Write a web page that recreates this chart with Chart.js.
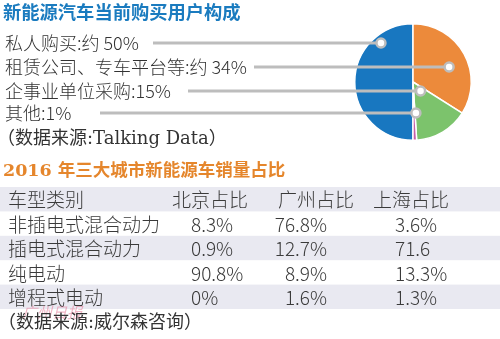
<!DOCTYPE html>
<html>
<head>
<meta charset="utf-8">
<script src="https://cdn.jsdelivr.net/npm/chart.js@4/dist/chart.umd.min.js"></script>
<style>
  html, body { margin: 0; padding: 0; background: #fff; }
  #wrap { width: 500px; height: 339px; position: relative; }
</style>
</head>
<body>
<div id="wrap"><canvas id="infographic"></canvas></div>
<script>
// pie: buyer composition
const buyerLabels = ['私人购买:约 50%', '租赁公司、专车平台等:约 34%', '企事业单位采购:15%', '其他:1%'];
const buyerShares = [50, 34, 15, 1];
const buyerColors = ['#1877c0', '#ec8a3b', '#7cc36c', '#c45fa8'];

// table: 2016 sales share by vehicle type
const tableHeaders = ['车型类别', '北京占比', '广州占比', '上海占比'];
const vehicleTypes = ['非插电式混合动力', '插电式混合动力', '纯电动', '增程式电动'];
const beijingShares = ['8.3%', '0.9%', '90.8%', '0%'];
const guangzhouShares = ['76.8%', '12.7%', '8.9%', '1.6%'];
const shanghaiShares = ['3.6%', '71.6', '13.3%', '1.3%'];

const SANS = '"Noto Sans CJK SC", "Noto Sans", sans-serif';
const SERIF = '"DejaVu Serif", "Liberation Serif", "Noto Sans CJK SC", serif';

const infoPlugin = {
    id: 'info',
    beforeDraw(chart) {
        const ctx = chart.ctx;
        ctx.save();
        ctx.fillStyle = '#fff';
        ctx.fillRect(0, 0, chart.width, chart.height);
        ctx.restore();
    },
    afterDraw(chart, args, opts) {
        const ctx = chart.ctx;
        const arcs = chart.getDatasetMeta(0).data;
        ctx.save();
        ctx.textBaseline = 'middle';

        // title 1
        ctx.fillStyle = '#1a7bbf';
        ctx.font = 'bold 18.3px ' + SERIF;
        ctx.fillText('新能源汽车当前购买用户构成', 3, 14);

        // legend labels + leader lines
        ctx.font = '300 18px ' + SANS;
        buyerLabels.forEach((label, i) => {
            const y = opts.rowY[i];
            ctx.fillStyle = '#333';
            ctx.fillText(label, 5, y);
            const arc = arcs[i];
            const r = arc.outerRadius;
            const dx = arc.x + opts.dotOffset[i] * r;
            ctx.strokeStyle = '#bdbdbd';
            ctx.lineWidth = 3;
            ctx.beginPath();
            ctx.moveTo(opts.lineStart[i], y);
            ctx.lineTo(dx, y);
            ctx.stroke();
            ctx.beginPath();
            ctx.arc(dx, y, 4.5, 0, Math.PI * 2);
            ctx.fillStyle = '#ffffff';
            ctx.fill();
            ctx.lineWidth = 2.5;
            ctx.stroke();
        });
        ctx.fillStyle = '#333';
        ctx.font = '18px ' + SERIF;
        ctx.fillText('（数据来源:Talking Data）', -3, 139);

        // title 2
        ctx.fillStyle = '#e5862c';
        ctx.font = 'bold 17.5px ' + SERIF;
        ctx.fillText('2016 年三大城市新能源车销量占比', 3, 171);

        // table
        const top = 187, rowH = 24.4;
        for (let r = 0; r <= vehicleTypes.length; r++) {
            if (r % 2 === 0) {
                ctx.fillStyle = '#e9e9f1';
                ctx.fillRect(0, top + r * rowH, chart.width, rowH);
            }
        }
        ctx.fillStyle = '#3a3a3a';
        ctx.font = '300 19px ' + SANS;
        const headX = [8, 172, 278, 373];
        tableHeaders.forEach((h, c) => ctx.fillText(h, headX[c], top + rowH / 2 + 1));
        vehicleTypes.forEach((t, r) => {
            const y = top + (r + 1.5) * rowH + 1;
            ctx.textAlign = 'left';
            ctx.fillText(t, 8, y);
            ctx.fillText(beijingShares[r], 191, y);
            ctx.textAlign = 'right';
            ctx.fillText(guangzhouShares[r], 327, y);
            ctx.textAlign = 'left';
            ctx.fillText(shanghaiShares[r], 395, y);
        });

        // watermark
        ctx.fillStyle = 'rgba(230,120,150,0.55)';
        ctx.font = 'italic 15px ' + SANS;
        ctx.fillText('广州日报', 22, 312);

        ctx.fillStyle = '#333';
        ctx.font = '18px ' + SERIF;
        ctx.fillText('（数据来源:威尔森咨询）', -2, 323);
        ctx.restore();
    }
};

new Chart(document.getElementById('infographic'), {
    type: 'pie',
    data: {
        labels: buyerLabels,
        datasets: [{
            data: buyerShares,
            backgroundColor: buyerColors,
            borderColor: '#ffffff',
            borderWidth: 1.5
        }]
    },
    options: {
        responsive: true,
        maintainAspectRatio: false,
        animation: false,
        rotation: 180,
        layout: { padding: { left: 354, right: 28, top: 23, bottom: 198 } },
        plugins: {
            legend: { display: false },
            tooltip: { enabled: false },
            info: {
                rowY: [43, 67, 91, 113],
                lineStart: [153, 254, 188, 100],
                dotOffset: [-0.55, 0.62, 0.13, 0.05]
            }
        }
    },
    plugins: [infoPlugin]
});
</script>
</body>
</html>
